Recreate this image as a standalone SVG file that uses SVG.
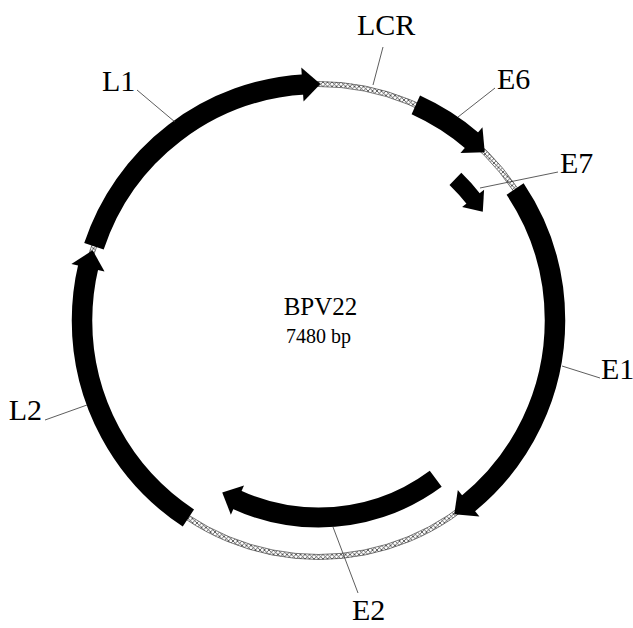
<svg xmlns="http://www.w3.org/2000/svg" width="633" height="628" viewBox="0 0 633 628">
  <defs>
    <!-- cross-hatch used for the non-coding backbone -->
    <pattern id="hatch" patternUnits="userSpaceOnUse" width="4.5" height="4.5">
      <path d="M0,0 L4.5,4.5 M4.5,0 L0,4.5" stroke="#222" stroke-width="0.7"/>
    </pattern>
  </defs>
  <style>
    .body{fill:none;stroke:#000}
    .main{stroke-width:20.5}
    .inner{stroke-width:20}
    .small{stroke-width:17}
    .head{fill:#000}
    .edge{fill:none;stroke:#444;stroke-width:0.7}
    .lead{stroke:#333;stroke-width:0.8;fill:none}
    .lbl{font-family:"Liberation Serif","Times New Roman",serif;font-size:30px;fill:#000}
    .title{font-family:"Liberation Serif","Times New Roman",serif;fill:#000;text-anchor:middle}
  </style>
  <rect width="633" height="628" fill="#fff"/>

  <!-- circular map, origin at the plasmid centre; angles clockwise from 12 o'clock -->
  <g id="backbone" transform="translate(318.5 320.5)">
    <circle r="236.5" fill="none" stroke="url(#hatch)" stroke-width="5"/>
    <circle class="edge" r="234"/>
    <circle class="edge" r="239"/>
  </g>

  <g id="L1" transform="translate(318.5 320.5)">
    <circle class="body main" r="236.5" transform="rotate(-90)" stroke-dasharray="282.3 2000" stroke-dashoffset="-1189.6"/>
    <polygon class="head" transform="rotate(356.1)" points="0,-253.5 18,-235.8 0,-219.5"/>
  </g>
  <g id="E6" transform="translate(318.5 320.5)">
    <circle class="body main" r="236.5" transform="rotate(-90)" stroke-dasharray="67.7 2000" stroke-dashoffset="-100.3"/>
    <polygon class="head" transform="rotate(40.3)" points="0,-253.5 18,-235.8 0,-219.5"/>
  </g>
  <g id="E1" transform="translate(318.5 320.5)">
    <circle class="body main" r="236.5" transform="rotate(-90)" stroke-dasharray="350.0 2000" stroke-dashoffset="-232.0"/>
    <polygon class="head" transform="rotate(140.6)" points="0,-253.5 18,-235.8 0,-219.5"/>
  </g>
  <g id="L2" transform="translate(318.5 320.5)">
    <circle class="body main" r="236.5" transform="rotate(-90)" stroke-dasharray="288.9 2000" stroke-dashoffset="-880.4"/>
    <polygon class="head" transform="rotate(282.9)" points="0,-253.5 18,-235.8 0,-219.5"/>
  </g>
  <g id="E7" transform="translate(318.5 320.5)">
    <circle class="body small" r="197" transform="rotate(-90)" stroke-dasharray="27.9 2000" stroke-dashoffset="-151.3"/>
    <polygon class="head" transform="rotate(51.7)" points="0,-211 16.5,-196.3 0,-183"/>
  </g>
  <g id="E2" transform="translate(318.5 320.5)">
    <circle class="body inner" r="197" transform="rotate(-90)" stroke-dasharray="210.8 2000" stroke-dashoffset="-493.1"/>
    <polygon class="head" transform="rotate(204.3)" points="0,-213 17,-196.3 0,-181"/>
  </g>

  <!-- label leader lines -->
  <g id="connectors">
    <line class="lead" x1="383" y1="47" x2="373" y2="85"/>
    <line class="lead" x1="137" y1="90" x2="175" y2="122"/>
    <line class="lead" x1="495" y1="88" x2="458" y2="117"/>
    <line class="lead" x1="558" y1="172" x2="480" y2="188"/>
    <line class="lead" x1="600" y1="378" x2="562" y2="366"/>
    <line class="lead" x1="45" y1="420" x2="87" y2="405"/>
    <line class="lead" x1="358" y1="593" x2="333" y2="527"/>
  </g>

  <g id="labels">
    <text class="lbl" x="357" y="35">LCR</text>
    <text class="lbl" x="102" y="91">L1</text>
    <text class="lbl" x="497" y="89">E6</text>
    <text class="lbl" x="560" y="173">E7</text>
    <text class="lbl" x="601" y="379">E1</text>
    <text class="lbl" x="42" y="420" text-anchor="end">L2</text>
    <text class="lbl" x="352" y="620">E2</text>
  </g>

  <g id="title">
    <text class="title" x="320.5" y="315" font-size="25">BPV22</text>
    <text class="title" x="318.5" y="343" font-size="20">7480 bp</text>
  </g>
</svg>
